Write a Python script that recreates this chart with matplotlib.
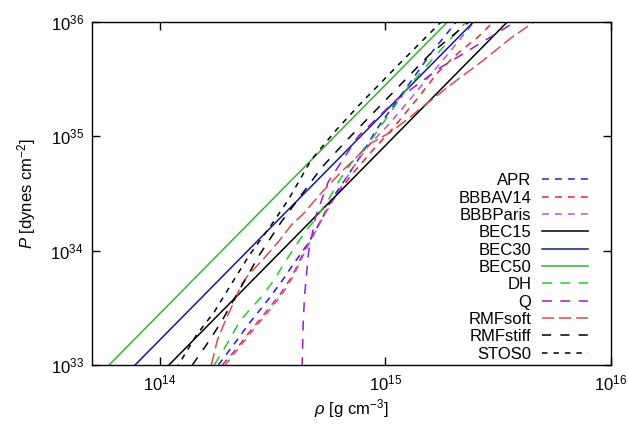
import numpy as np
import matplotlib
matplotlib.use('Agg')
import matplotlib.pyplot as plt

plt.rcParams['font.family'] = ['Liberation Sans', 'DejaVu Sans']
plt.rcParams['mathtext.fontset'] = 'custom'
plt.rcParams['mathtext.rm'] = 'Liberation Sans'
plt.rcParams['mathtext.it'] = 'Liberation Sans:italic'
plt.rcParams['font.size'] = 12

# equations of state, log10(rho [g cm^-3]) vs log10(P [dynes cm^-2])
apr_x = [14.259, 14.326, 14.397, 14.472, 14.538, 14.583, 14.658, 14.716, 14.760, 14.826, 14.893, 14.959, 15.070, 15.203, 15.314, 15.33]
apr_y = [33.000, 33.175, 33.367, 33.551, 33.726, 33.857, 34.067, 34.269, 34.444, 34.636, 34.837, 35.056, 35.362, 35.730, 36.001, 36.05]

av14_x = [14.277, 14.335, 14.401, 14.467, 14.534, 14.587, 14.640, 14.685, 14.724, 14.764, 14.849, 14.937, 15.035, 15.137, 15.234, 15.323, 15.411, 15.478, 15.50]
av14_y = [33.000, 33.131, 33.297, 33.455, 33.621, 33.779, 33.997, 34.164, 34.304, 34.435, 34.662, 34.864, 35.074, 35.319, 35.563, 35.730, 35.870, 36.001, 36.03]

paris_x = [14.290, 14.343, 14.410, 14.476, 14.543, 14.592, 14.645, 14.689, 14.729, 14.769, 14.849, 14.928, 15.004, 15.070, 15.181, 15.292, 15.393, 15.41]
paris_y = [33.000, 33.131, 33.297, 33.455, 33.621, 33.779, 33.997, 34.164, 34.312, 34.444, 34.706, 34.925, 35.082, 35.231, 35.493, 35.756, 36.001, 36.04]

bec15_x = [13.90, 14.00, 14.50, 15.00, 15.55]
bec15_y = [32.72, 32.92, 33.92, 34.92, 36.02]
bec30_x = [13.70, 14.00, 14.50, 15.00, 15.40]
bec30_y = [32.62, 33.22, 34.22, 35.22, 36.02]
bec50_x = [13.60, 14.00, 14.50, 15.00, 15.30]
bec50_y = [32.65, 33.45, 34.45, 35.45, 36.05]

dh_x = [14.241, 14.308, 14.352, 14.397, 14.450, 14.507, 14.552, 14.596, 14.640, 14.693, 14.747, 14.791, 14.849, 14.893, 14.946, 15.039, 15.101, 15.225, 15.358, 15.37]
dh_y = [33.000, 33.219, 33.376, 33.481, 33.595, 33.744, 33.892, 34.024, 34.155, 34.286, 34.444, 34.601, 34.767, 34.864, 34.995, 35.257, 35.432, 35.712, 36.001, 36.03]

q_x = [14.628, 14.631, 14.634, 14.641, 14.660, 14.691, 14.746, 14.879, 15.037, 15.243, 15.575, 15.60]
q_y = [32.50, 33.00, 33.30, 33.60, 34.00, 34.30, 34.60, 35.00, 35.30, 35.60, 36.00, 36.03]

soft_x = [14.228, 14.255, 14.295, 14.326, 14.361, 14.392, 14.463, 14.525, 14.583, 14.640, 14.707, 14.804, 14.937, 15.017, 15.083, 15.159, 15.300, 15.425, 15.557, 15.659, 15.68]
soft_y = [33.000, 33.219, 33.411, 33.542, 33.700, 33.787, 33.936, 34.076, 34.225, 34.330, 34.487, 34.689, 34.942, 35.030, 35.126, 35.249, 35.467, 35.651, 35.861, 36.001, 36.03]

stiff_x = [14.144, 14.206, 14.272, 14.352, 14.441, 14.538, 14.627, 14.716, 14.817, 14.937, 15.057, 15.194, 15.371, 15.39]
stiff_y = [33.000, 33.175, 33.376, 33.656, 33.962, 34.251, 34.487, 34.724, 34.942, 35.187, 35.432, 35.712, 36.001, 36.03]

stos_x = [14.075, 14.082, 14.162, 14.241, 14.317, 14.397, 14.494, 14.569, 14.671, 14.782, 14.884, 15.070, 15.247, 15.27]
stos_y = [32.96, 33.000, 33.262, 33.464, 33.709, 33.962, 34.225, 34.444, 34.794, 35.056, 35.275, 35.651, 36.001, 36.05]

curves = [
    ('APR', apr_x, apr_y, '#1a1aff', (4.5, 4)),
    ('BBBAV14', av14_x, av14_y, '#e8262b', (4.5, 4)),
    ('BBBParis', paris_x, paris_y, '#b452f0', (4.5, 4)),
    ('BEC15', bec15_x, bec15_y, 'black', None),
    ('BEC30', bec30_x, bec30_y, '#0a1aa8', None),
    ('BEC50', bec50_x, bec50_y, '#2cb82c', None),
    ('DH', dh_x, dh_y, '#22cc22', (6.5, 5.5)),
    ('Q', q_x, q_y, '#9a1ad6', (6.5, 5.5)),
    ('RMFsoft', soft_x, soft_y, '#e04848', (8, 3.2)),
    ('RMFstiff', stiff_x, stiff_y, 'black', (6, 6)),
    ('STOS0', stos_x, stos_y, 'black', (3.6, 3.9)),
]

fig = plt.figure(figsize=(6.28, 4.36), dpi=100)
ax = fig.add_axes([92/628, 1-365/436, 519/628, 343/436])

for name, x, y, c, dash in curves:
    line, = ax.plot(10**np.array(x), 10**np.array(y), color=c, lw=1.1, label=name)
    if dash is not None:
        line.set_dashes(dash)

ax.set_xscale('log')
ax.set_yscale('log')
ax.set_xlim(5e13, 1e16)
ax.set_ylim(1e33, 1e36)
ax.minorticks_off()
ax.set_xticks([1e14, 1e15, 1e16])
ax.set_yticks([1e33, 1e34, 1e35, 1e36])
ax.tick_params(which='both', direction='in', top=True, right=True, length=6, width=1, labelsize=12, pad=6)
for s in ax.spines.values():
    s.set_linewidth(1.0)

ax.set_xlabel(r'$\rho$ [g cm$^{-3}$]', fontsize=12, labelpad=3)
ax.set_ylabel(r'$P$ [dynes cm$^{-2}$]', fontsize=12, labelpad=9)

leg = ax.legend(loc='lower right', bbox_to_anchor=(0.956, 0.01), frameon=False, markerfirst=False,
                handlelength=2.75, handletextpad=0.65, labelspacing=0.14, borderaxespad=0, borderpad=0,
                fontsize=12)
for col in leg._legend_handle_box.get_children():
    col.align = 'right'

fig.savefig('out.png', dpi=100)
